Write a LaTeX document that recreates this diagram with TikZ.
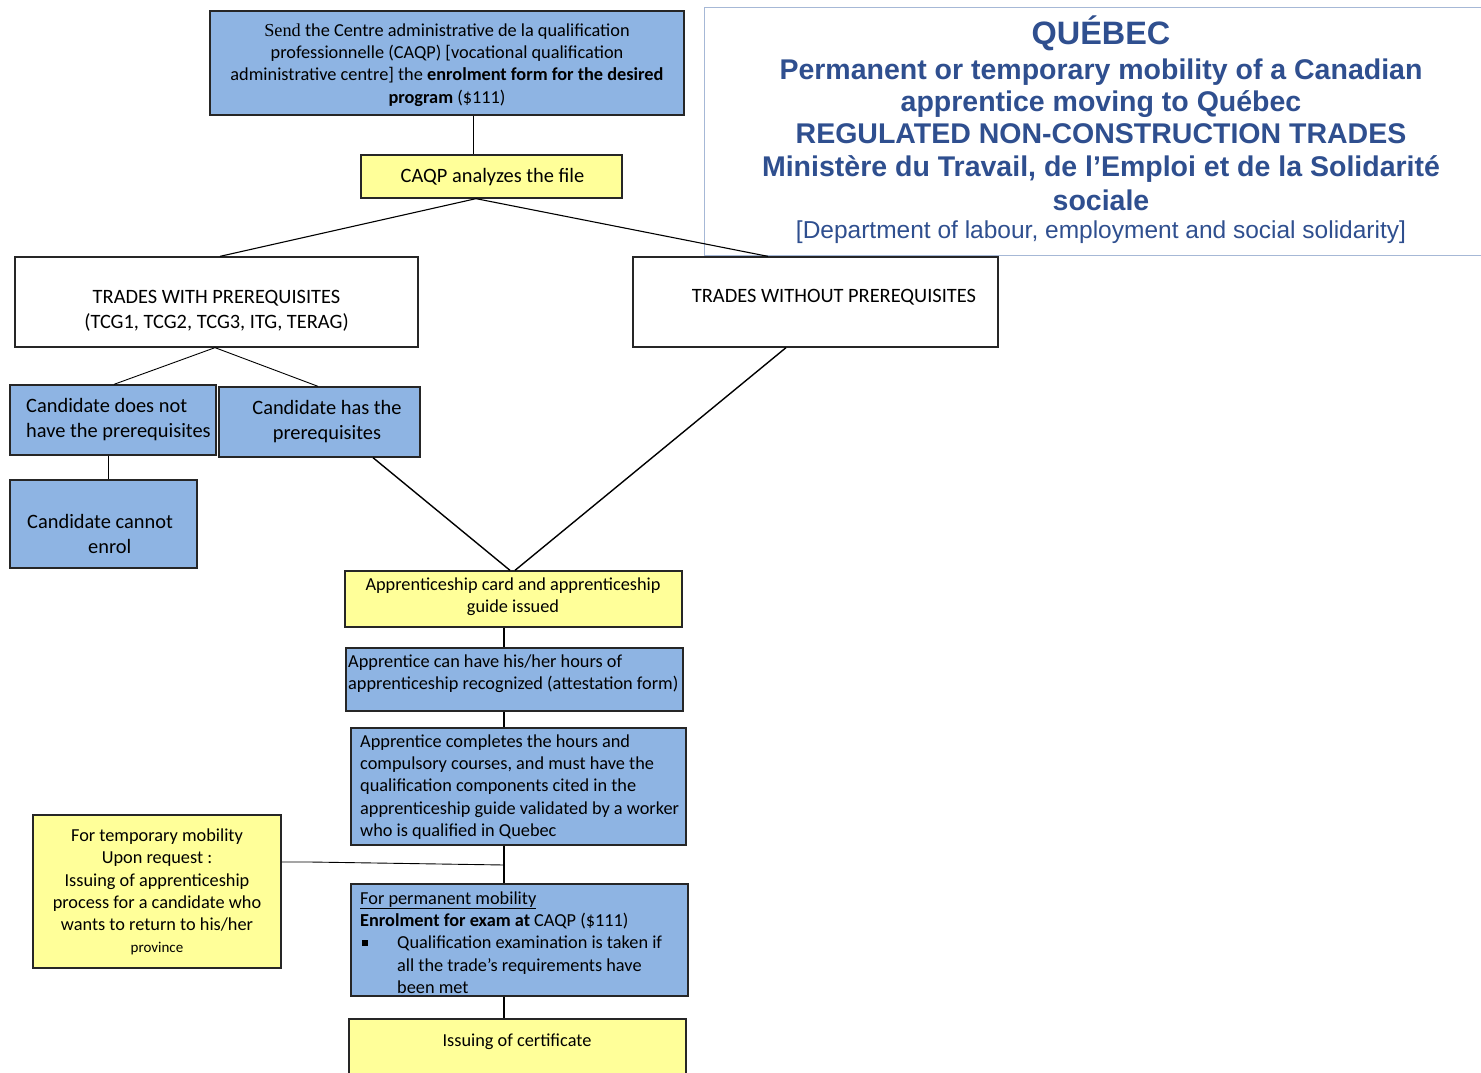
\documentclass[tikz,border=0pt]{standalone}
\usepackage{fontspec}
\setmainfont{Carlito}
\newfontfamily\arialfont{Liberation Sans}
\newfontfamily\timesfont{Liberation Serif}
\newcommand\fsz[2]{\fontsize{#1}{#2}\selectfont}
\definecolor{boxblue}{RGB}{142,180,227}
\definecolor{boxyellow}{RGB}{255,255,153}
\definecolor{titleblue}{RGB}{47,79,143}
\definecolor{titleframe}{RGB}{166,184,214}
\tikzset{
  box/.style={draw=black!85, line width=1.3pt, inner sep=0pt, rectangle},
  bluebox/.style={box, fill=boxblue},
  yellowbox/.style={box, fill=boxyellow},
  whitebox/.style={box, fill=white},
  txt/.style={inner sep=0pt, align=center, font=\fsz{18.3}{22.3}},
  bigtxt/.style={inner sep=0pt, align=center, font=\fsz{20.4}{25}},
  ltxt/.style={txt, align=left, anchor=west},
  conn/.style={draw=black, line width=1.1pt},
  ttl/.style={inner sep=0pt, text=titleblue, font=\arialfont\bfseries\fsz{28.5}{33}},
}
\begin{document}
\begin{tikzpicture}[x=1pt,y=-1pt]
\useasboundingbox (0,0) rectangle (1481,1073);
\clip (0,0) rectangle (1481,1073);
\fill[white] (0,0) rectangle (1481,1073);

% title
\node[draw=titleframe, line width=0.8pt, fill=white, minimum width=800pt, minimum height=248pt, inner sep=0pt] (title) at (1104,131) {};
\node[ttl, font=\arialfont\bfseries\fsz{32.4}{36}] (t1) at (1101,33.5) {QUÉBEC};
\node[ttl] (t2) at (1101,72) {Permanent or temporary mobility of a Canadian};
\node[ttl] (t3) at (1101,104) {apprentice moving to Québec};
\node[ttl] (t4) at (1101,134) {REGULATED NON-CONSTRUCTION TRADES};
\node[ttl] (t5) at (1101,169.5) {Ministère du Travail, de l’Emploi et de la Solidarité};
\node[ttl] (t6) at (1101,200) {sociale};
\node[ttl, font=\arialfont\fsz{24.5}{28}] (t7) at (1101,232.5) {[Department of labour, employment and social solidarity]};

% boxes
\node[bluebox, minimum width=474pt, minimum height=104pt] (top) at (447,63) {};
\node[txt] (topt) at (447,65) {{\timesfont Send} the Centre administrative de la qualification\\professionnelle (CAQP) [vocational qualification\\administrative centre] the \textbf{enrolment form for the desired}\\\textbf{program} (\$111)};

\node[yellowbox, minimum width=261pt, minimum height=43pt] (caqp) at (491.5,176.5) {};
\node[bigtxt] (caqpt) at (492.5,177) {CAQP analyzes the file};

\node[whitebox, minimum width=403pt, minimum height=90pt] (tw) at (216.5,302) {};
\node[bigtxt] (twt) at (216.5,311) {TRADES WITH PREREQUISITES\\(TCG1, TCG2, TCG3, ITG, TERAG)};

\node[whitebox, minimum width=365pt, minimum height=90pt] (two) at (815.5,302) {};
\node[bigtxt] (twot) at (834,297) {TRADES WITHOUT PREREQUISITES};

\node[bluebox, minimum width=206pt, minimum height=70pt] (dn) at (113,420) {};
\node[bigtxt, align=left, anchor=west] (dnt) at (26,419.5) {Candidate does not\\have the prerequisites};

\node[bluebox, minimum width=201pt, minimum height=70pt] (has) at (319.5,422) {};
\node[bigtxt] (hast) at (327,421.5) {Candidate has the\\prerequisites};

\node[bluebox, minimum width=187pt, minimum height=88pt] (cannot) at (103.5,524) {};
\node[bigtxt, align=left, anchor=west] (cannott) at (27,533.5) {Candidate cannot\\\hspace*{61pt}enrol};

\node[yellowbox, minimum width=337pt, minimum height=56pt] (card) at (513.5,599) {};
\node[txt] (cardt) at (513,597) {Apprenticeship card and apprenticeship\\guide issued};

\node[bluebox, minimum width=337pt, minimum height=63pt] (canhave) at (514.5,679.5) {};
\node[ltxt] (canhavet) at (348,674) {Apprentice can have his/her hours of\\apprenticeship recognized (attestation form)};

\node[bluebox, minimum width=335pt, minimum height=117pt] (compl) at (518.5,786.5) {};
\node[ltxt] (complt) at (360,787) {Apprentice completes the hours and\\compulsory courses, and must have the\\qualification components cited in the\\apprenticeship guide validated by a worker\\who is qualified in Quebec};

\node[yellowbox, minimum width=248pt, minimum height=153pt] (temp) at (157,891.5) {};
\node[txt] (tempt) at (157,892) {For temporary mobility\\Upon request :\\Issuing of apprenticeship\\process for a candidate who\\wants to return to his/her\\{\fsz{15}{22.3}province}};

\node[bluebox, minimum width=337pt, minimum height=112pt] (perm) at (519.5,940) {};
\node[ltxt] (permt) at (360,942.5) {\underline{For permanent mobility}\\\textbf{Enrolment for exam at} CAQP (\$111)\\\makebox[37pt][l]{\hspace*{2pt}\rule[3pt]{5.5pt}{5.5pt}}Qualification examination is taken if\\\hspace*{37pt}all the trade’s requirements have\\\hspace*{37pt}been met};

\node[yellowbox, minimum width=337pt, minimum height=81pt] (cert) at (517.5,1059.5) {};
\node[txt] (certt) at (517,1041.5) {Issuing of certificate};

% connectors
\coordinate (jn) at (504,865);
\draw[conn, line width=0.8pt] (top.south -| 473,0) -- (caqp.north -| 473,0);
\draw[conn] (caqp.south -| 476,0) -- (tw.north -| 220,0);
\draw[conn] (caqp.south -| 476,0) -- (two.north -| 768,0);
\draw[conn, line width=0.9pt] (tw.south -| 215,0) -- (dn.north -| 114,0);
\draw[conn, line width=0.9pt] (tw.south -| 215,0) -- (has.north -| 318,0);
\draw[conn, line width=0.9pt] (dn.south -| 108,0) -- (cannot.north -| 108,0);
\draw[conn, line width=1.4pt] (has.south -| 373,0) -- (card.north -| 510,0);
\draw[conn, line width=1.4pt] (two.south -| 786,0) -- (card.north -| 515,0);
\draw[conn] (card.south -| 504,0) -- (canhave.north -| 504,0);
\draw[conn] (canhave.south -| 504,0) -- (compl.north -| 504,0);
\draw[conn] (compl.south -| 504,0) -- (perm.north -| 504,0);
\draw[conn, line width=0.9pt] (temp.east |- 0,862) -- (310,862) -- (jn);
\draw[conn] (perm.south -| 504,0) -- (cert.north -| 504,0);
\end{tikzpicture}
\end{document}
